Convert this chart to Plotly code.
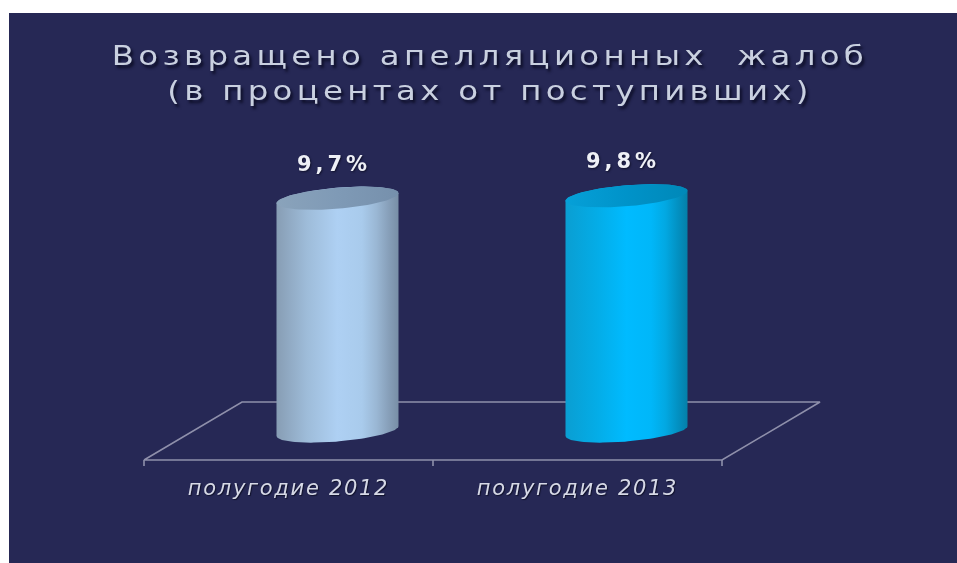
import numpy as np
import plotly.graph_objects as go

categories = ["полугодие 2012", "полугодие 2013"]
values = [9.7, 9.8]
value_labels = ["9,7%", "9,8%"]
title_lines = ["Возвращено апелляционных  жалоб", "(в процентах от поступивших)"]
body_colors = [
    [[0, "#879db4"], [0.25, "#9ebcd9"], [0.5, "#aed0f3"], [0.7, "#a9cbec"], [0.82, "#9ab7d4"], [0.92, "#879fb9"], [1, "#788ea6"]],
    [[0, "#0a9ed2"], [0.25, "#04ace6"], [0.5, "#00bbff"], [0.7, "#00b7f9"], [0.82, "#02a8e2"], [0.92, "#0391c2"], [1, "#047fa8"]],
]
cap_colors = [
    [[0, "#8aa3bb"], [0.5, "#7f9ab6"], [1, "#7690ac"]],
    [[0, "#06a0d8"], [0.5, "#0093c9"], [1, "#0088b8"]],
]

NAVY = "#262855"
W, H = 957, 563
ML, MT = 9, 13
PX = 289.0          # px per category step
PY = 24.0           # px per value unit
X0 = 288.5          # px of category 0
Y0 = 431.0          # px of value 0
DEPTH_X = 98 / PX
DEPTH_Y = 29 / PY
HALF_W = 61 / PX
ELL_B = 10.5 / PY
ELL_S = 5 / PY

x_range = [(ML - X0) / PX, (W - X0) / PX]
y_range = [(Y0 - H) / PY, (Y0 - MT) / PY]

fig = go.Figure()

# floor
fx0, fx1 = -0.5, 1.5
tick = 6 / PY
floor_x = [fx0, fx1, fx1 + DEPTH_X, fx0 + DEPTH_X, fx0, None,
           fx0, fx0, None, 0.5, 0.5, None, fx1, fx1]
floor_y = [-DEPTH_Y, -DEPTH_Y, DEPTH_Y, DEPTH_Y, -DEPTH_Y, None,
           -DEPTH_Y, -DEPTH_Y - tick, None, -DEPTH_Y, -DEPTH_Y - tick, None, -DEPTH_Y, -DEPTH_Y - tick]
fig.add_trace(go.Scatter(x=floor_x, y=floor_y, mode="lines",
                         line=dict(color="#8f90ab", width=1.6), hoverinfo="skip", showlegend=False))


def ell(cx, yv, t):
    return cx + HALF_W * np.cos(t), yv + ELL_S * np.cos(t) + ELL_B * np.sin(t)


for i, (cat, v, lab) in enumerate(zip(categories, values, value_labels)):
    cx = i + DEPTH_X / 2
    xb, yb = ell(cx, 0, np.linspace(np.pi, 2 * np.pi, 60))
    xt, yt = ell(cx, v, np.linspace(0, np.pi, 60))
    fig.add_trace(go.Scatter(
        x=np.r_[xb, xt], y=np.r_[yb, yt], mode="lines", fill="toself", name=cat,
        line=dict(width=0, color="rgba(0,0,0,0)"),
        fillgradient=dict(type="horizontal", colorscale=body_colors[i]),
        hoverinfo="skip", showlegend=False))
    xc, yc = ell(cx, v, np.linspace(0, 2 * np.pi, 90))
    fig.add_trace(go.Scatter(
        x=xc, y=yc, mode="lines", fill="toself",
        line=dict(width=0, color="rgba(0,0,0,0)"),
        fillgradient=dict(type="horizontal", colorscale=cap_colors[i]),
        hoverinfo="skip", showlegend=False))
    fig.add_trace(go.Scatter(
        x=[cx - 0.012], y=[v + 1.36], mode="text", text=[lab], textposition="middle center",
        textfont=dict(family="DejaVu Sans", size=21, color="#eef0f6", weight="bold",
                      shadow="1px 1px 2px #11122c"),
        hoverinfo="skip", showlegend=False, cliponaxis=False))

fig.update_layout(
    width=W, height=H, autosize=False,
    margin=dict(l=ML, r=0, t=MT, b=0, pad=0),
    paper_bgcolor="white", plot_bgcolor=NAVY,
    showlegend=False,
    title=dict(
        text="<br>".join(title_lines),
        x=490 / W, xanchor="center", xref="container",
        y=1 - 65 / H, yanchor="top", yref="container",
        font=dict(family="DejaVu Sans", size=27, color="#c9d0e0",
                  shadow="2px 3px 3px #0c0d26"),
    ),
    xaxis=dict(range=x_range, tickmode="array", tickvals=[0, 1], ticktext=categories,
               showgrid=False, zeroline=False, showline=False, ticks="",
               anchor="free", position=(H - 460) / (H - MT), ticklabelstandoff=13,
               tickfont=dict(family="DejaVu Sans", size=21, color="#d6d9e6", style="italic",
                             shadow="1px 1px 1px #11122c")),
    yaxis=dict(range=y_range, visible=False),
)

spacing_js = """
document.body.style.margin = '0';
document.documentElement.style.overflow = 'hidden';
const sty = (sel, ls, stroke) => document.querySelectorAll(sel).forEach(e => {
  e.style.letterSpacing = ls;
  e.style.webkitTextStroke = stroke;
  e.style.filter = 'blur(0.4px)';
});
sty('.gtitle', '3.6px', '0.7px');
sty('.xtick text', '1.7px', '0.2px');
sty('.textpoint text', '4px', '0px');
document.querySelectorAll('.gtitle').forEach(e => {
  e.style.transformOrigin = '490px 0px';
  e.style.transform = 'scaleX(1.2)';
});
"""
fig.write_html("out.html", post_script=spacing_js, config={"displayModeBar": False})
